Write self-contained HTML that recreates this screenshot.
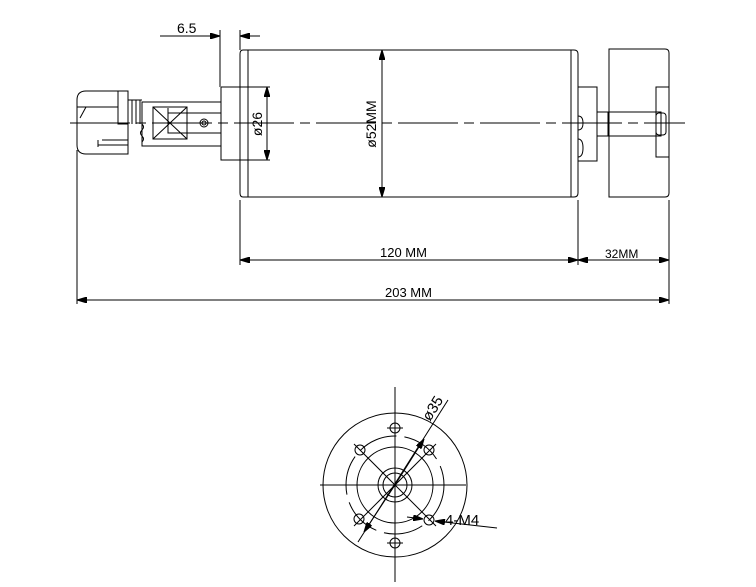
<!DOCTYPE html>
<html><head><style>body{margin:0;background:#fff}svg{display:block}</style></head><body>
<svg width="756" height="587" viewBox="0 0 756 587" xmlns="http://www.w3.org/2000/svg" fill="none" stroke="#000" stroke-width="1" font-family="Liberation Sans, sans-serif">
<defs><marker id="a" viewBox="0 0 10 6" refX="10" refY="3" markerWidth="10" markerHeight="6" orient="auto-start-reverse" markerUnits="userSpaceOnUse"><path d="M0,0L10,3L0,6z" fill="#000"/></marker></defs>
<!-- centerline -->
<line x1="70" y1="123" x2="685" y2="123" stroke-dasharray="60,6,10,6"/>
<!-- connector -->
<path d="M118,91H86Q77,91 77,100V145Q77,154 86,154H128V124"/>
<line x1="77" y1="107" x2="118" y2="107"/>
<path d="M80,118L86,107"/>
<rect x="118" y="91" width="10" height="33"/>
<line x1="128" y1="100" x2="142" y2="100"/><line x1="132" y1="100" x2="132" y2="124"/><line x1="136" y1="100" x2="136" y2="124"/><line x1="140" y1="100" x2="140" y2="124"/>
<path d="M98,140V147M98,145H128M102,140H128"/>
<path d="M142,124q3,3 0,6q-3,3 0,6q3,3 0,6"/>
<rect x="142" y="102" width="79" height="44"/>
<rect x="153" y="107" width="34" height="32"/>
<path d="M153,107L187,139M187,107L153,139"/>
<path d="M168,108V133H221M168,113H221"/>
<circle cx="204" cy="123" r="4"/><circle cx="204" cy="123" r="2"/>
<!-- flange -->
<path d="M221,87H240M221,87V160H240"/>
<line x1="267" y1="87" x2="267" y2="160" marker-start="url(#a)" marker-end="url(#a)"/>
<line x1="240" y1="87" x2="270" y2="87"/><line x1="240" y1="160" x2="270" y2="160"/>
<text x="262" y="124" font-size="14" fill="#000" stroke="none" transform="rotate(-90 262 124)" text-anchor="middle">ø26</text>
<!-- body -->
<path d="M243,50H574Q578,50 578,54V193Q578,197 574,197H243Q240,197 240,193V54Q240,50 243,50Z"/>
<line x1="248" y1="50" x2="248" y2="197"/><line x1="571" y1="50" x2="571" y2="197"/>
<line x1="382" y1="50" x2="382" y2="197" marker-start="url(#a)" marker-end="url(#a)"/>
<text x="376" y="124" font-size="14" fill="#000" stroke="none" transform="rotate(-90 376 124)" text-anchor="middle">ø52MM</text>
<!-- 6.5 -->
<line x1="220" y1="30" x2="220" y2="87"/><line x1="240" y1="30" x2="240" y2="50"/>
<line x1="160" y1="36" x2="220" y2="36" marker-end="url(#a)"/>
<line x1="260" y1="36" x2="240" y2="36" marker-end="url(#a)"/>
<text x="177" y="33" font-size="14" fill="#000" stroke="none">6.5</text>
<!-- right side -->
<rect x="578" y="87" width="19" height="74"/>
<path d="M578,116q5,0 5,7q0,7-5,7M578,139q5,0 5,9q0,9-5,9"/>
<rect x="597" y="112" width="11" height="24"/>
<rect x="608" y="112" width="53" height="24"/>
<rect x="656" y="113" width="10" height="22" rx="3"/>
<path d="M609,49H665Q669,49 669,53V193Q669,197 665,197H609Z"/>
<rect x="656" y="87" width="13" height="70"/>
<!-- dims -->
<line x1="77" y1="150" x2="77" y2="304"/>
<line x1="240" y1="200" x2="240" y2="265"/>
<line x1="578" y1="200" x2="578" y2="265"/>
<line x1="669" y1="200" x2="669" y2="304"/>
<line x1="240" y1="260" x2="578" y2="260" marker-start="url(#a)" marker-end="url(#a)"/>
<line x1="578" y1="260" x2="669" y2="260" marker-start="url(#a)" marker-end="url(#a)"/>
<line x1="77" y1="300" x2="669" y2="300" marker-start="url(#a)" marker-end="url(#a)"/>
<text x="380" y="257" font-size="13" fill="#000" stroke="none">120 MM</text>
<text x="605" y="258" font-size="12" fill="#000" stroke="none">32MM</text>
<text x="385" y="297" font-size="13" fill="#000" stroke="none">203 MM</text>
<!-- end view -->
<line x1="395" y1="387" x2="395" y2="582"/>
<line x1="320" y1="485" x2="466" y2="485"/>
<circle cx="395" cy="485" r="72"/>
<circle cx="395" cy="485" r="49" stroke-dasharray="40,8"/>
<circle cx="395" cy="485" r="38"/>
<circle cx="395" cy="485" r="17"/>
<circle cx="395" cy="485" r="12"/>
<line x1="354" y1="444" x2="436" y2="526"/><line x1="436" y1="444" x2="354" y2="526"/>
<g>
<circle cx="395" cy="428" r="5"/><circle cx="395" cy="543" r="5"/>
<circle cx="360" cy="450" r="5"/><circle cx="429" cy="450" r="5"/>
<circle cx="359" cy="519" r="5"/><circle cx="429" cy="520" r="5"/>
<path d="M387,428H403M387,543H403"/>
</g>
<line x1="358" y1="542" x2="448" y2="400"/>
<line x1="395" y1="485" x2="424" y2="439" marker-end="url(#a)"/>
<line x1="395" y1="485" x2="364" y2="532" marker-end="url(#a)"/>
<text x="430" y="422" font-size="15" fill="#000" stroke="none" transform="rotate(-58 430 422)">ø35</text>
<line x1="497" y1="528" x2="435" y2="521" marker-end="url(#a)"/>
<line x1="407" y1="517" x2="423" y2="519" marker-end="url(#a)"/>
<text x="445" y="525" font-size="15" fill="#000" stroke="none">4-M4</text>
</svg>
</body></html>
